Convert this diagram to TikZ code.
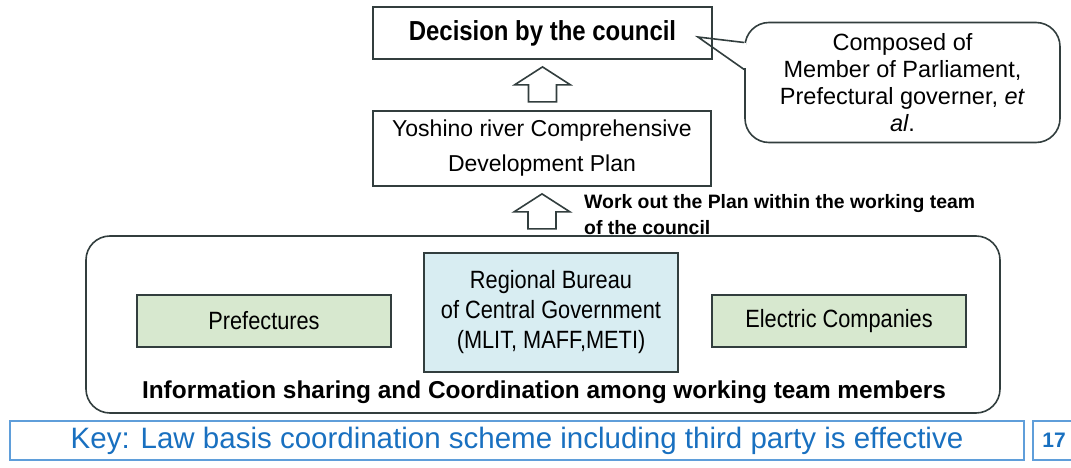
\documentclass[tikz,border=0pt]{standalone}
\usepackage{fontspec}
\setmainfont{Liberation Sans}
\newfontfamily\narrowsans[FakeStretch=0.87]{Liberation Sans}
\usepackage{xcolor}
\usepackage{tikz}
\usetikzlibrary{calc}

\definecolor{framegray}{RGB}{50,62,62}
\definecolor{memgreen}{RGB}{215,232,207}
\definecolor{bureaublue}{RGB}{216,237,242}
\definecolor{keyblue}{RGB}{25,112,192}
\definecolor{keyframe}{RGB}{95,158,218}

\tikzset{
  planbox/.style={draw=framegray, line width=1.8pt, fill=white, align=center, inner sep=0pt},
  memberbox/.style={planbox, minimum width=254pt},
  hollowarrow/.style={draw=framegray, line width=1.6pt, fill=white, line join=miter},
  keybox/.style={draw=keyframe, line width=1.6pt, inner sep=0pt, text=keyblue}
}

\begin{document}
\begin{tikzpicture}[x=1pt, y=-1pt]
		\useasboundingbox (0,0) rectangle (1071,468);
		
		% Council decision and the plan
		\node[planbox, minimum width=339pt, minimum height=52pt,
		  font=\narrowsans\bfseries\fontsize{27.5}{32}\selectfont] (decision) at (542.5,33) {Decision by the council};
		\node[planbox, minimum width=338pt, minimum height=75pt,
		  font=\fontsize{23}{35}\selectfont] (plan) at (542,148.5) {Yoshino river Comprehensive\\Development Plan};
		
		% Hollow up arrows
		\coordinate (tipA) at ($(decision.south)+(0,7)$);
		\coordinate (tipB) at ($(plan.south)+(0,7)$);
		\foreach \t in {tipA,tipB}
		  \draw[hollowarrow] (\t) -- ++(28,18) -- ++(-14,0) -- ++(0,17) -- ++(-28,0)
		    -- ++(0,-17) -- ++(-14,0) -- cycle;
		\node[anchor=west, align=left, inner sep=0pt,
		  font=\bfseries\fontsize{19.4}{26}\selectfont] (workout) at (584,215)
		  {Work out the Plan within the working team\\of the council};
		
		% Callout with the council members
		\node[planbox, line width=1.6pt, rounded corners=24pt, minimum width=315pt, minimum height=120pt,
		  font=\fontsize{23.5}{27}\selectfont] (members) at (902.5,82.5)
		  {Composed of\\Member of Parliament,\\Prefectural governer, \textit{et}\\\textit{al}.};
		\coordinate (pointtip) at ($(decision.east)+(-15,4)$);
		\draw[white, line width=2.6pt] ($(members.west)+(0,-39)$) -- ($(members.west)+(0,-14)$);
		\draw[framegray, line width=1.6pt, line join=miter]
		  ($(members.west)+(0,-40)$) -- (pointtip) -- ($(members.west)+(0,-13)$);
		
		% Working team
		\node[draw=framegray, line width=1.6pt, rounded corners=24pt, minimum width=914pt,
		  minimum height=177pt] (team) at (543,324.5) {};
		\node[memberbox, fill=memgreen, minimum height=52pt,
		  font=\narrowsans\fontsize{25}{30}\selectfont] (pref) at (264,321) {Prefectures};
		\node[memberbox, fill=bureaublue, minimum height=119pt,
		  font=\narrowsans\fontsize{25}{30}\selectfont] (bureau) at (551,312.5)
		  {Regional Bureau\\of Central Government\\(MLIT, MAFF,METI)};
		\node[memberbox, fill=memgreen, minimum height=52pt,
		  font=\narrowsans\fontsize{25}{30}\selectfont] (electric) at (839,321) {Electric Companies};
		\node[inner sep=0pt, font=\bfseries\fontsize{24.4}{28}\selectfont] (sharing) at (544,392)
		  {Information sharing and Coordination among working team members};
		
		% Key message and page number
		\node[keybox, minimum width=1014pt, minimum height=39pt,
		  font=\fontsize{29.5}{33}\selectfont] (key) at (517,440.5)
		  {Key: Law basis coordination scheme including third party is effective};
		\node[keybox, minimum width=42pt, minimum height=39pt,
		  font=\bfseries\fontsize{21}{24}\selectfont] (page) at (1054,440.5) {17};
	\end{tikzpicture}
\end{document}
